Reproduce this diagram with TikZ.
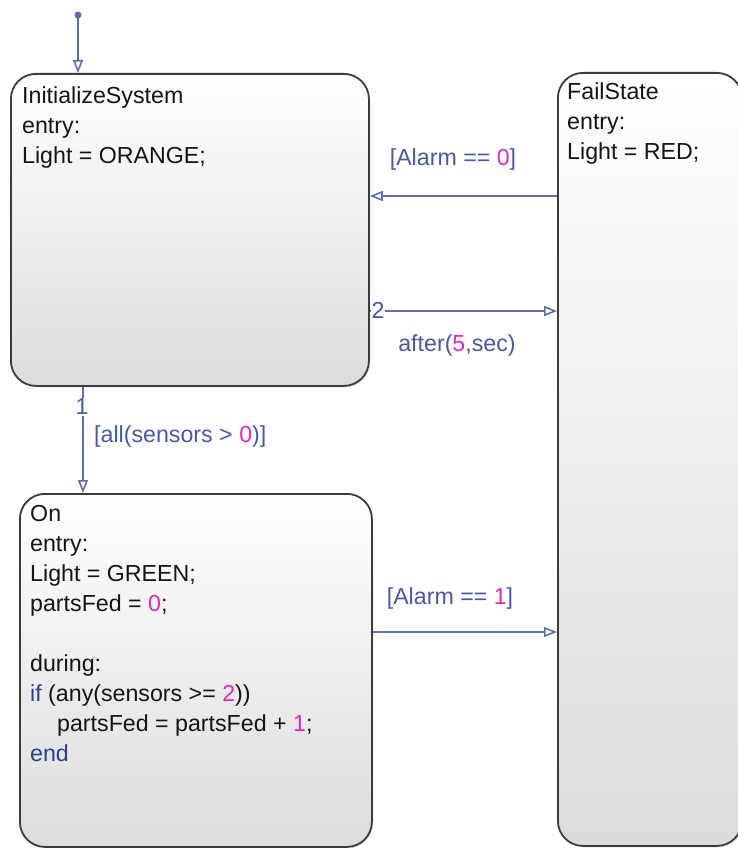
\documentclass[tikz,border=0pt]{standalone}
\usepackage{fontspec}
\setmainfont{Liberation Sans}
\usetikzlibrary{arrows.meta,shadows}
\definecolor{edgec}{RGB}{60,60,60}
\definecolor{transc}{RGB}{98,108,180}
\definecolor{labc}{RGB}{72,88,168}
\definecolor{numc}{RGB}{222,40,200}
\definecolor{kwc}{RGB}{40,64,150}
\definecolor{txtc}{RGB}{25,20,20}
\definecolor{botc}{RGB}{220,220,220}
\tikzset{
  statebox/.style={draw=edgec, line width=1.8pt, rounded corners=25pt,
    top color=white, bottom color=botc, anchor=north west, inner sep=0pt,
    drop shadow={shadow xshift=1.5pt, shadow yshift=-1.5pt, opacity=0.22, fill=gray}},
  statetext/.style={anchor=north west, align=left, inner sep=0pt, text=txtc,
    font=\fontsize{23.2}{30}\selectfont},
  trans/.style={draw=transc, line width=1.8pt, -{Triangle[open, length=13pt, width=10pt, line width=1.6pt]}},
  translabel/.style={text=labc, inner sep=1pt, font=\fontsize{23.2}{30}\selectfont}
}
\newcommand{\nm}[1]{\textcolor{numc}{#1}}
\newcommand{\kw}[1]{\textcolor{kwc}{#1}}
\begin{document}
\begin{tikzpicture}[x=1pt,y=-1pt]
\useasboundingbox (0,0) rectangle (737,848);
% states
\node[statebox, minimum width=358pt, minimum height=312pt] (init) at (10,73) {};
\node[statebox, minimum width=352pt, minimum height=353pt] (on) at (19,493) {};
\node[statebox, minimum width=184pt, minimum height=773pt] (fail) at (557,72) {};
% state texts
\node[statetext] (initt) at (22,86) {InitializeSystem\\entry:\\Light = ORANGE;};
\node[statetext] (ont) at (30,505) {On\\entry:\\Light = GREEN;\\partsFed = \nm{0};\\[30pt]during:\\\kw{if} (any(sensors >= \nm{2}))\\\hspace*{27pt}partsFed = partsFed + \nm{1};\\\kw{end}};
\node[statetext] (failt) at (567,82) {FailState\\entry:\\Light = RED;};
% default transition
\coordinate (dot) at (78,15);
\fill[transc] (dot) circle (3.5pt);
\draw[trans] (dot) -- (dot |- init.north);
% Alarm == 0
\draw[trans] (fail.west |- 0,196) -- (init.east |- 0,196);
\node[translabel] (l0) at (453,160) {[Alarm == \nm{0}]};
% after(5,sec)
\draw[trans] (init.east |- 0,311) -- (fail.west |- 0,311);
\node[translabel, fill=white] (n2) at (378,310) {2};
\node[translabel] (l2) at (457,345) {after(\nm{5},sec)};
% all sensors
\draw[trans] (init.south -| 83,0) -- (on.north -| 83,0);
\node[translabel, fill=white] (n1) at (82,407) {1};
\node[translabel, anchor=west] (l1) at (93,436) {[all(sensors > \nm{0})]};
% Alarm == 1
\draw[trans] (on.east |- 0,632) -- (fail.west |- 0,632);
\node[translabel] (l3) at (450,598) {[Alarm == \nm{1}]};
\end{tikzpicture}
\end{document}
